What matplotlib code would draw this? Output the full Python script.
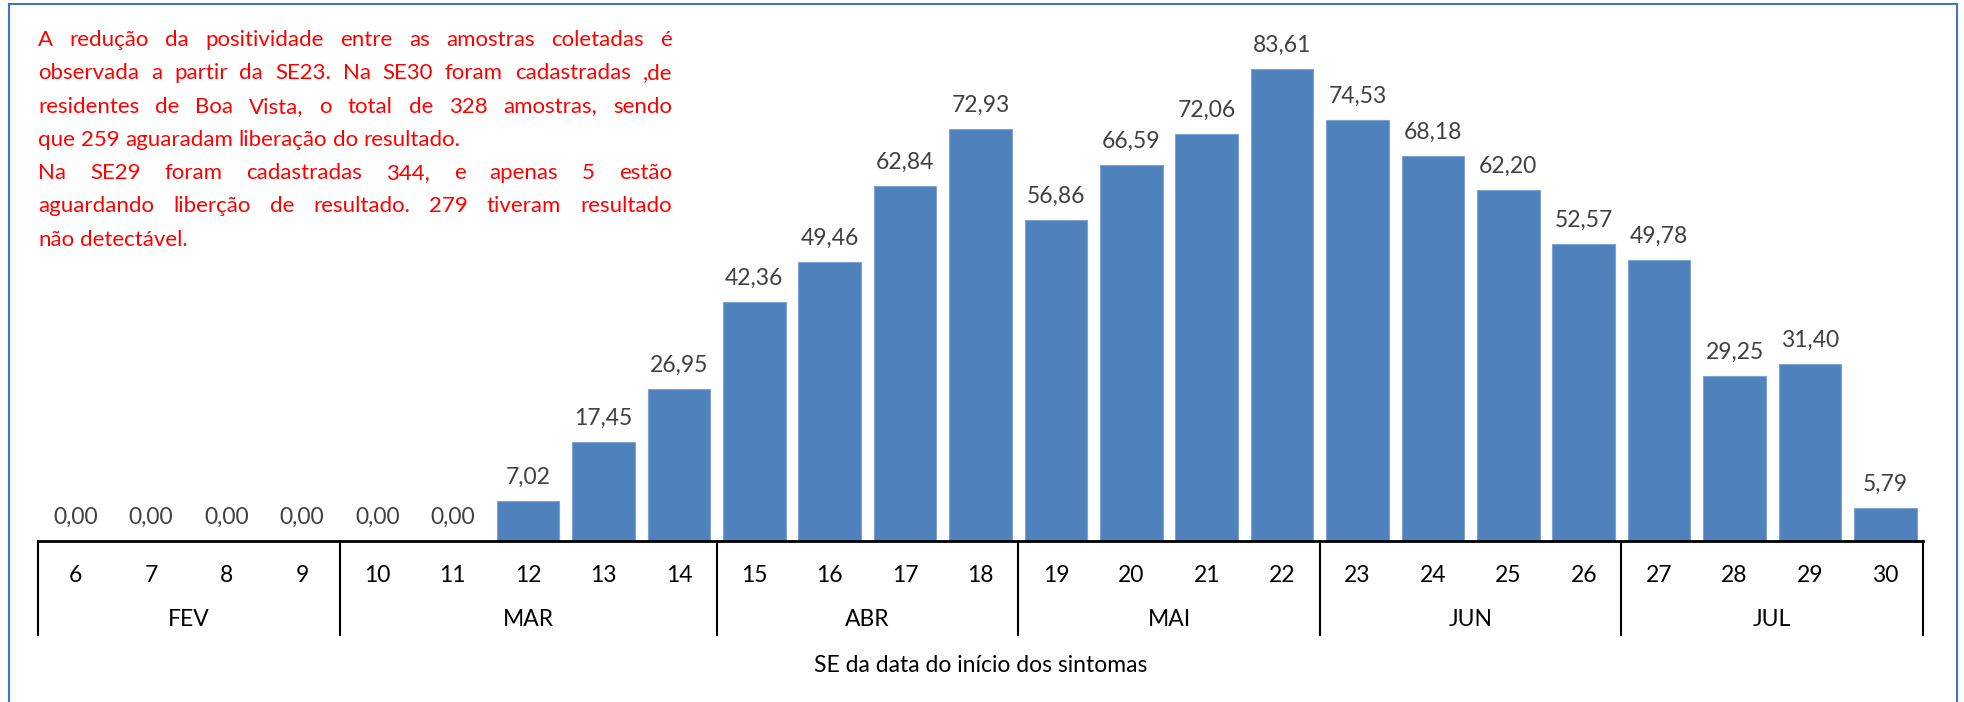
import matplotlib
matplotlib.use("Agg")
import matplotlib.pyplot as plt
from matplotlib.lines import Line2D
from matplotlib.transforms import blended_transform_factory

# --- dados ---
semanas = [6, 7, 8, 9, 10, 11, 12, 13, 14, 15, 16, 17, 18, 19, 20, 21, 22,
           23, 24, 25, 26, 27, 28, 29, 30]
positividade = [0.00, 0.00, 0.00, 0.00, 0.00, 0.00, 7.02, 17.45, 26.95,
                42.36, 49.46, 62.84, 72.93, 56.86, 66.59, 72.06, 83.61,
                74.53, 68.18, 62.20, 52.57, 49.78, 29.25, 31.40, 5.79]
meses = ["FEV", "MAR", "ABR", "MAI", "JUN", "JUL"]
semanas_por_mes = [4, 5, 4, 4, 4, 4]

nota = [
    ("A redução da positividade entre as amostras coletadas é", True),
    ("observada a partir da SE23. Na SE30 foram cadastradas ,de", True),
    ("residentes de Boa Vista, o total de 328 amostras, sendo", True),
    ("que 259 aguaradam liberação do resultado.", False),
    ("Na SE29 foram cadastradas 344, e apenas 5 estão", True),
    ("aguardando liberção de resultado. 279 tiveram resultado", True),
    ("não detectável.", False),
]

FONT = "Lato"
FS = 16.5
FS_NOTA = 16
AZUL = "#4F81BD"
W, H = 1964, 702

fig = plt.figure(figsize=(W / 100, H / 100), dpi=100)
ax = fig.add_axes([38 / W, (H - 541) / H, (1923 - 38) / W, 531 / H])

x = list(range(len(semanas)))
bars = ax.bar(x, positividade, width=0.83, color=AZUL, edgecolor="#7FA3D3", linewidth=0.8)
ax.bar_label(bars, labels=[f"{v:.2f}".replace(".", ",") for v in positividade],
             padding=9.5, fontsize=FS, color="#404040", family=FONT)

ax.set_xlim(-0.5, len(semanas) - 0.5)
ax.set_ylim(0, 531 / 5.645)
for s in ["top", "right", "left"]:
    ax.spines[s].set_visible(False)
ax.spines["bottom"].set_linewidth(2)
ax.set_yticks([])
ax.set_xticks([])

# eixo de categorias em dois niveis
tr = blended_transform_factory(ax.transData, ax.transAxes)
for xi, s in zip(x, semanas):
    ax.text(xi, -34 / 531, str(s), transform=tr, ha="center", va="center",
            fontsize=FS, family=FONT, color="black")
pos = -0.5
bordas = [pos]
for m, n in zip(meses, semanas_por_mes):
    ax.text(pos + n / 2, -79 / 531, m, transform=tr, ha="center", va="center",
            fontsize=FS, family=FONT, color="black")
    pos += n
    bordas.append(pos)
for b in bordas:
    ax.add_line(Line2D([b, b], [0, -94 / 531], transform=tr, color="black",
                       lw=1.5, clip_on=False))
ax.text(0.5, -125 / 531, "SE da data do início dos sintomas", transform=ax.transAxes,
        ha="center", va="center", fontsize=FS, family=FONT, color="black")

# moldura azul
for xs, ys in [([9, 9], [0, H - 4]), ([9, 1957], [H - 4, H - 4]), ([1957, 1957], [H - 4, 0])]:
    fig.add_artist(Line2D([v / W for v in xs], [v / H for v in ys],
                          transform=fig.transFigure, color="#4472C4", lw=1.5))

# nota em vermelho, texto justificado
renderer = fig.canvas.get_renderer()
x0, x1 = 38, 672
medida = fig.text(0, 0, "a a", fontsize=FS_NOTA, family=FONT)
w_aa = medida.get_window_extent(renderer).width
medida.set_text("aa")
espaco = w_aa - medida.get_window_extent(renderer).width
medida.remove()

for i, (linha, justificar) in enumerate(nota):
    yc = 40 + i * 33.3
    palavras = linha.split(" ")
    objs = [fig.text(0, 1 - yc / H, p, fontsize=FS_NOTA, family=FONT, color="#FF0000",
                     va="center", ha="left") for p in palavras]
    larg = [o.get_window_extent(renderer).width for o in objs]
    if justificar and len(palavras) > 1:
        gap = ((x1 - x0) - sum(larg)) / (len(palavras) - 1)
    else:
        gap = espaco
    cx = x0
    for o, w in zip(objs, larg):
        o.set_x(cx / W)
        cx += w + gap

fig.savefig("out.png", dpi=100)
